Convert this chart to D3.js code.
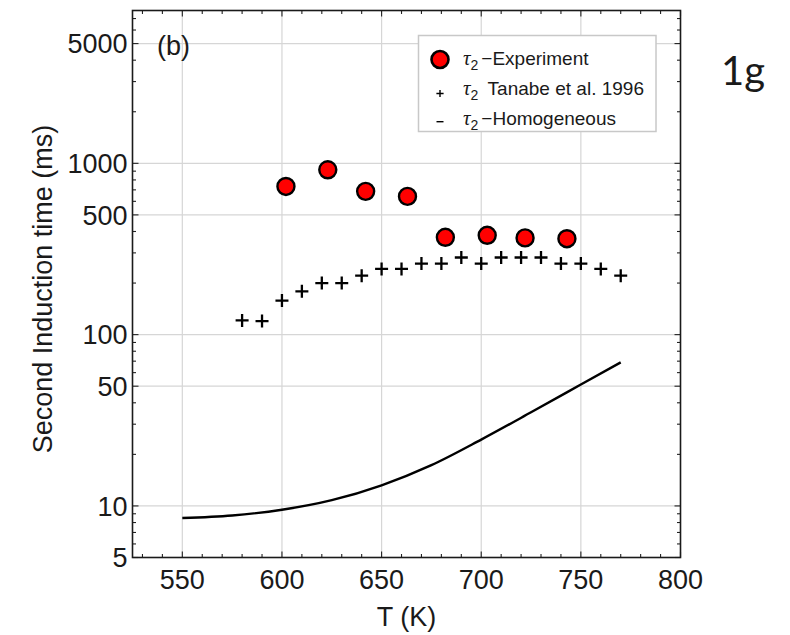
<!DOCTYPE html>
<html><head><meta charset="utf-8">
<script src="https://cdn.jsdelivr.net/npm/d3@7"></script>
<style>
html,body{margin:0;padding:0;background:#fff;}
svg{display:block;}
text{font-family:"Liberation Sans",Arial,sans-serif;fill:#1a1a1a;}
</style></head>
<body>
<svg id="chart" width="790" height="635"></svg>
<script>
// ---- data ----
const expT   = [602, 623, 642, 663, 682, 703, 722, 743];
const expTau = [733, 917, 686, 641, 370, 380, 367, 363];

const tanT   = [580, 590, 600, 610, 620, 630, 640, 650, 660, 670, 680, 690, 700, 710, 720, 730, 740, 750, 760, 770];
const tanTau = [121, 120, 158, 179, 200, 200, 221, 242, 242, 260, 260, 282, 260, 282, 282, 282, 260, 260, 242, 221];

const homT   = [550, 575, 600, 625, 650, 675, 700, 725, 750, 770];
const homTau = [8.5, 8.8, 9.5, 10.8, 13.2, 17.3, 24.4, 35.2, 51.1, 68.9];

const xMajorTicks = [550, 600, 650, 700, 750, 800];
const yMajorTicks = [5, 10, 50, 100, 500, 1000, 5000];
const xDomain = [525, 800];
const yDomain = [5, 7800];

const legendLabels = ["\u2212Experiment", " Tanabe et al. 1996", "\u2212Homogeneous"];

// ---- layout ----
const L = 132.5, R = 680.5, T = 10.5, B = 557.5;
const svg = d3.select("#chart");
const x = d3.scaleLinear().domain(xDomain).range([L, R]);
const y = d3.scaleLog().domain(yDomain).range([B, T]);

const xMinor = d3.range(530, 800, 10).filter(v => !xMajorTicks.includes(v));
const yMinor = y.ticks(40).filter(v => !yMajorTicks.includes(v) && v > yDomain[0] && v < yDomain[1]);

// gridlines
const grid = svg.append("g").attr("stroke", "#d6d6d6").attr("stroke-width", 1.2);
xMajorTicks.filter(v => v > xDomain[0] && v < xDomain[1]).forEach(v => {
  grid.append("line").attr("x1", x(v)).attr("x2", x(v)).attr("y1", T).attr("y2", B);
});
yMajorTicks.filter(v => v > yDomain[0] && v < yDomain[1]).forEach(v => {
  grid.append("line").attr("x1", L).attr("x2", R).attr("y1", y(v)).attr("y2", y(v));
});

// ticks (inward, all four sides)
const ticks = svg.append("g").attr("stroke", "#222").attr("stroke-width", 1.1);
function xt(v, len){
  ticks.append("line").attr("x1", x(v)).attr("x2", x(v)).attr("y1", B).attr("y2", B - len);
  ticks.append("line").attr("x1", x(v)).attr("x2", x(v)).attr("y1", T).attr("y2", T + len);
}
function yt(v, len){
  ticks.append("line").attr("y1", y(v)).attr("y2", y(v)).attr("x1", L).attr("x2", L + len);
  ticks.append("line").attr("y1", y(v)).attr("y2", y(v)).attr("x1", R).attr("x2", R - len);
}
xMajorTicks.forEach(v => xt(v, 6));
xMinor.forEach(v => xt(v, 3.5));
yMajorTicks.forEach(v => yt(v, 6));
yMinor.forEach(v => yt(v, 3.5));

// frame
svg.append("rect").attr("x", L).attr("y", T).attr("width", R - L).attr("height", B - T)
  .attr("fill", "none").attr("stroke", "#1a1a1a").attr("stroke-width", 1.6);

// tick labels
svg.append("g").selectAll("text").data(xMajorTicks).join("text")
  .attr("x", d => x(d)).attr("y", B + 31).attr("text-anchor", "middle")
  .attr("font-size", 27).text(d => d);
svg.append("g").selectAll("text").data(yMajorTicks).join("text")
  .attr("x", L - 5).attr("y", d => y(d) + 9.7).attr("text-anchor", "end")
  .attr("font-size", 27).text(d => d);

// axis titles
svg.append("text").attr("x", (L + R) / 2).attr("y", 626).attr("text-anchor", "middle")
  .attr("font-size", 27).text("T (K)");
svg.append("text").attr("transform", `translate(52,289) rotate(-90)`)
  .attr("text-anchor", "middle").attr("font-size", 27).text("Second Induction time (ms)");

// panel label
svg.append("text").attr("x", 157).attr("y", 55).attr("font-size", 27).text("(b)");
svg.append("text").attr("x", 721).attr("y", 85).attr("font-size", 40)
  .style("font-family", "Lato, 'Open Sans', sans-serif").text("1g");

// homogeneous line
const line = d3.line().x(d => x(d[0])).y(d => y(d[1])).curve(d3.curveMonotoneX);
svg.append("path").datum(homT.map((t, i) => [t, homTau[i]]))
  .attr("d", line).attr("fill", "none").attr("stroke", "#000").attr("stroke-width", 2.4);

// Tanabe crosses
const crossPath = s => `M${-s},0H${s}M0,${-s}V${s}`;
svg.append("g").selectAll("path").data(tanT.map((t, i) => [t, tanTau[i]])).join("path")
  .attr("transform", d => `translate(${x(d[0])},${y(d[1])})`)
  .attr("d", crossPath(6.5)).attr("stroke", "#000").attr("stroke-width", 2.3).attr("fill", "none");

// Experiment circles
svg.append("g").selectAll("circle").data(expT.map((t, i) => [t, expTau[i]])).join("circle")
  .attr("cx", d => x(d[0])).attr("cy", d => y(d[1])).attr("r", 8.5)
  .attr("fill", "#ff0000").attr("stroke", "#000").attr("stroke-width", 2.4);

// legend
const lg = svg.append("g");
lg.append("rect").attr("x", 418.5).attr("y", 35.5).attr("width", 237.5).attr("height", 96)
  .attr("fill", "#fff").attr("stroke", "#c8c8c8").attr("stroke-width", 1.5);
lg.append("circle").attr("cx", 440).attr("cy", 59.5).attr("r", 8.5)
  .attr("fill", "#ff0000").attr("stroke", "#000").attr("stroke-width", 2.6);
lg.append("path").attr("transform", "translate(440,93.5)").attr("d", crossPath(3.6))
  .attr("stroke", "#000").attr("stroke-width", 1.4);
lg.append("path").attr("d", "M436.5,121.7H443.5").attr("stroke", "#000").attr("stroke-width", 1.4);

const rowsY = [65, 95, 125];
legendLabels.forEach((lab, i) => {
  const t = lg.append("text").attr("x", 463).attr("y", rowsY[i]).attr("font-size", 19);
  t.append("tspan").style("font-family", "'Liberation Serif','DejaVu Serif',serif")
    .style("font-style", "italic").attr("font-size", 21).text("\u03c4");
  t.append("tspan").attr("font-size", 14).attr("dy", 5).text("2");
  t.append("tspan").attr("dy", -5).attr("dx", i === 1 ? 4 : 3).text(lab);
});
</script>
</body></html>
